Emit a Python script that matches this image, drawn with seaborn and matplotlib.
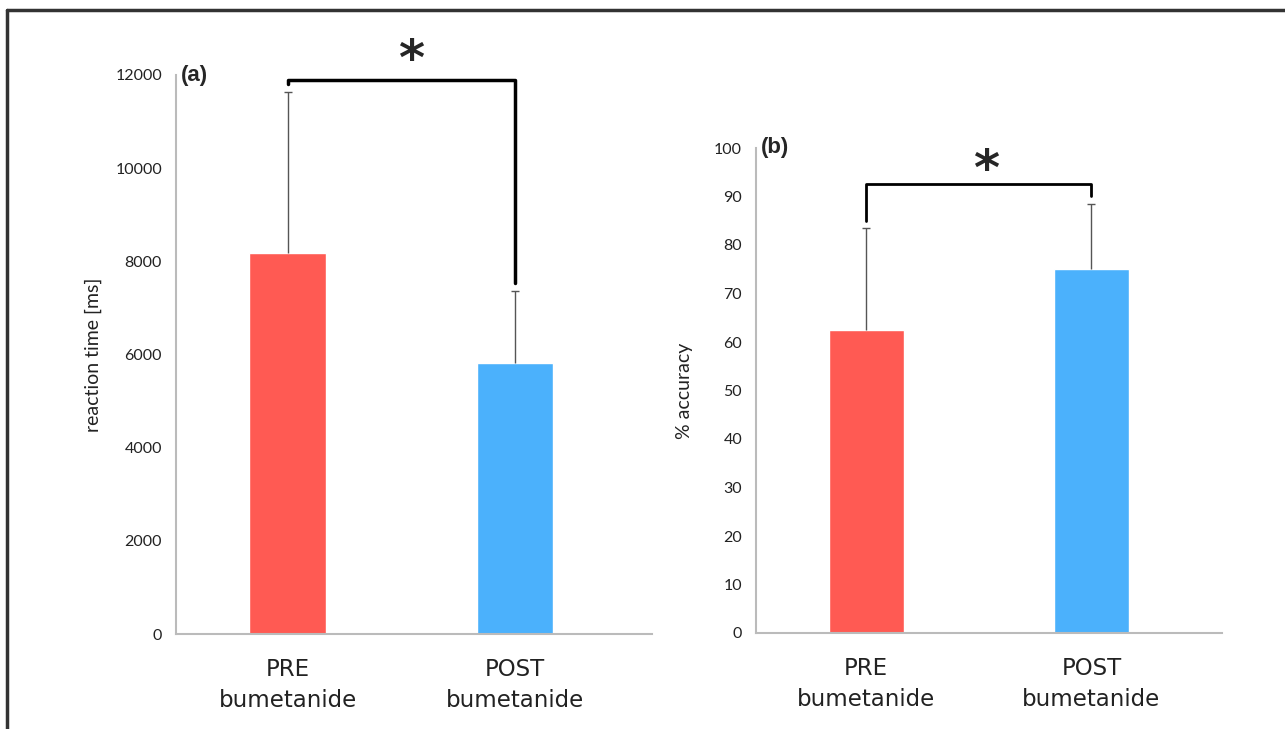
import matplotlib
matplotlib.use('Agg')
import matplotlib.pyplot as plt
import seaborn as sns
import pandas as pd
from matplotlib.lines import Line2D

# dados
grupos = ['PRE\nbumetanide', 'POST\nbumetanide']
tempo_media = [8170, 5820]
tempo_erro = [3470, 1540]
acerto_media = [62.5, 75.0]
acerto_erro = [21.0, 13.5]
cores = ['#FF5A53', '#4BB1FC']

sns.set_style('white')
plt.rcParams['font.family'] = ['Lato', 'DejaVu Sans']

fig = plt.figure(figsize=(12.85, 7.29), dpi=100)
W, H = 1285, 729


def eixo(x0, x1, y0, y1):
    return fig.add_axes([x0 / W, 1 - y1 / H, (x1 - x0) / W, (y1 - y0) / H])


def painel(ax, medias, erros, ymax, passo, ylabel, letra, xlim):
    df = pd.DataFrame({'grupo': grupos, 'valor': medias})
    sns.barplot(data=df, x='grupo', y='valor', hue='grupo', palette=cores,
                width=0.335, legend=False, ax=ax, saturation=1)
    _, caps, _ = ax.errorbar([0, 1], medias, yerr=[[0, 0], erros], fmt='none',
                             ecolor='#555555', elinewidth=1, capsize=3, capthick=1)
    caps[0].set_visible(False)  # só a tampa de cima
    ax.set_ylim(0, ymax)
    ax.set_xlim(*xlim)
    ax.set_yticks(range(0, ymax + 1, passo))
    ax.tick_params(axis='y', labelsize=11.5, length=4, color='#BBBBBB', pad=6,
                   labelcolor='#222222')
    ax.tick_params(axis='x', labelsize=16.5, length=0, pad=17, labelcolor='#222222')
    for t in ax.get_xticklabels():
        t.set_linespacing(1.45)
        t.set_family('DejaVu Sans')
    ax.set_xlabel('')
    ax.set_ylabel(ylabel, fontsize=14, color='#222222')
    for s in ['top', 'right']:
        ax.spines[s].set_visible(False)
    for s in ['left', 'bottom']:
        ax.spines[s].set_color('#BBBBBB')
        ax.spines[s].set_linewidth(1.5)
    ax.text(0.01, 1.0, letra, transform=ax.transAxes, fontsize=16,
            fontweight='bold', ha='left', va='center', family='Liberation Sans')


# (a) tempo de reação
ax1 = eixo(176, 652, 75, 634)
painel(ax1, tempo_media, tempo_erro, 12000, 2000, 'reaction time [ms]', '(a)', (-0.49, 1.6))
ax1.yaxis.set_label_coords(-0.155, 0.5)
ax1.plot([0, 0, 1, 1], [11800, 11890, 11890, 7530], color='black', lw=2.5)
ax1.text(0.54, 12300, '*', fontsize=36, ha='center', va='center',
         family='DejaVu Sans', fontweight='bold')

# (b) acurácia
ax2 = eixo(756, 1222, 148, 633)
painel(ax2, acerto_media, acerto_erro, 100, 10, '% accuracy', '(b)', (-0.49, 1.58))
ax2.yaxis.set_label_coords(-0.135, 0.5)
ax2.plot([0, 0, 1, 1], [85, 92.6, 92.6, 90], color='black', lw=2)
ax2.text(0.53, 95.3, '*', fontsize=36, ha='center', va='center',
         family='DejaVu Sans', fontweight='bold')

# moldura externa
fig.add_artist(Line2D([7 / W, 7 / W], [0, 1 - 10 / H], color='#333333', lw=2.5))
fig.add_artist(Line2D([7 / W, 1], [1 - 10 / H, 1 - 10 / H], color='#333333', lw=2.5))

plt.savefig('out.png', dpi=100)
